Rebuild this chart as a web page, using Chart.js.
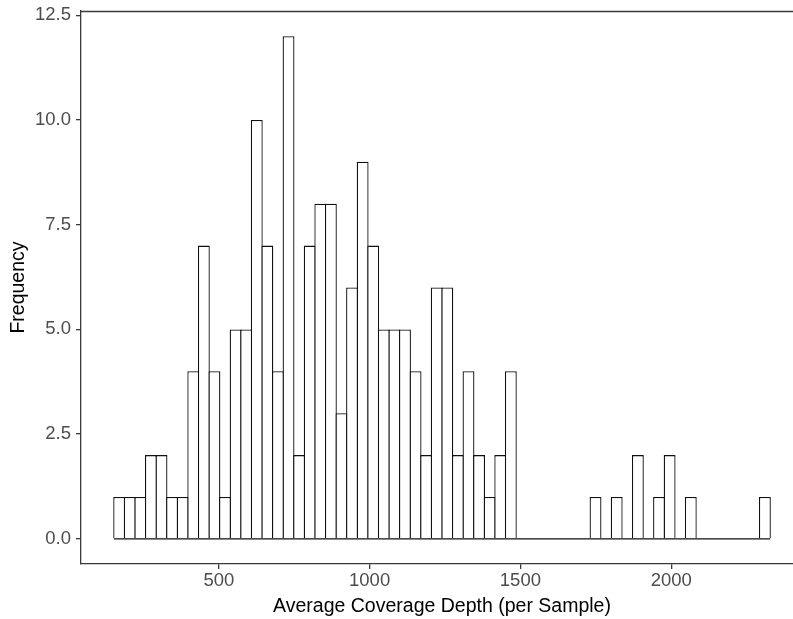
<!DOCTYPE html>
<html>
<head>
<meta charset="utf-8">
<script src="https://cdn.jsdelivr.net/npm/chart.js@4.4.1/dist/chart.umd.min.js"></script>
<style>
html,body{margin:0;padding:0;background:#fff;overflow:hidden;}
#wrap{width:803px;height:619px;}
</style>
</head>
<body>
<div id="wrap"><canvas id="hist" width="803" height="619"></canvas></div>
<script>
// histogram bins: start of first bin and bin width (depth units)
const binStart = 152;
const binWidth = 35.1;
const counts = [
1,1,1,2,2,1,1,4,7,4,
1,5,5,10,7,4,12,2,7,8,
8,3,6,9,7,5,5,5,4,2,
6,6,2,4,2,1,2,4,
0,0,0,0,0,0,0,
1,0,1,0,2,0,1,2,0,1,
0,0,0,0,0,0,1
];
const xTicks = [500, 1000, 1500, 2000];
const yTicks = [0, 2.5, 5, 7.5, 10, 12.5];

const binEnd = binStart + counts.length * binWidth;
const bars = counts.map((c, i) => ({x: binStart + (i + 0.5) * binWidth, y: c}));

const fontFam = '"Liberation Sans", Arial, sans-serif';
const axisCol = '#3a3a3a';
const lw = 1.3;

// top frame line of the panel
const topLine = {
  id: 'topLine',
  afterDraw(chart) {
    const a = chart.chartArea, ctx = chart.ctx;
    ctx.save();
    ctx.strokeStyle = axisCol;
    ctx.lineWidth = lw;
    ctx.beginPath();
    ctx.moveTo(a.left, a.top + 0.5);
    ctx.lineTo(a.right, a.top + 0.5);
    ctx.stroke();
    ctx.restore();
  }
};

new Chart(document.getElementById('hist'), {
  type: 'bar',
  data: {
    datasets: [{
      type: 'line',
      data: [{x: binStart, y: 0}, {x: binEnd, y: 0}],
      borderColor: '#111',
      borderWidth: lw,
      pointRadius: 0
    }, {
      data: bars,
      backgroundColor: '#ffffff',
      borderColor: '#111111',
      borderWidth: lw,
      categoryPercentage: 1,
      barPercentage: 1 + lw / 10.6
    }]
  },
  options: {
    responsive: false,
    animation: false,
    layout: {padding: {top: 11, right: 0, bottom: 0, left: 0}},
    plugins: {legend: {display: false}, tooltip: {enabled: false}},
    scales: {
      x: {
        type: 'linear',
        offset: false,
        min: 43,
        max: 2437,
        grid: {offset: false, drawOnChartArea: false, drawTicks: true, tickLength: 5, color: axisCol, lineWidth: lw},
        border: {display: true, color: axisCol, width: lw},
        afterBuildTicks: s => { s.ticks = xTicks.map(v => ({value: v})); },
        afterFit: s => { s.height = 55; s.paddingLeft = 0; s.paddingRight = 0; },
        ticks: {
          color: '#4D4D4D', padding: 1, maxRotation: 0,
          font: {family: fontFam, size: 18.5},
          callback: v => String(v)
        },
        title: {
          display: true, text: 'Average Coverage Depth (per Sample)',
          color: '#000', font: {family: fontFam, size: 19.5}, padding: {top: 0, bottom: 1}
        }
      },
      y: {
        min: -0.6,
        max: 12.6,
        grid: {drawOnChartArea: false, drawTicks: true, tickLength: 5, color: axisCol, lineWidth: lw},
        border: {display: true, color: axisCol, width: lw},
        afterBuildTicks: s => { s.ticks = yTicks.map(v => ({value: v})); },
        afterFit: s => { s.width = 81; s.paddingTop = 0; s.paddingBottom = 0; },
        ticks: {
          color: '#4D4D4D', padding: 5,
          font: {family: fontFam, size: 18.5},
          callback: v => Number(v).toFixed(1)
        },
        title: {
          display: true, text: 'Frequency',
          color: '#000', font: {family: fontFam, size: 19.5}, padding: {top: 7, bottom: 0}
        }
      }
    }
  },
  plugins: [topLine]
});
</script>
</body>
</html>
